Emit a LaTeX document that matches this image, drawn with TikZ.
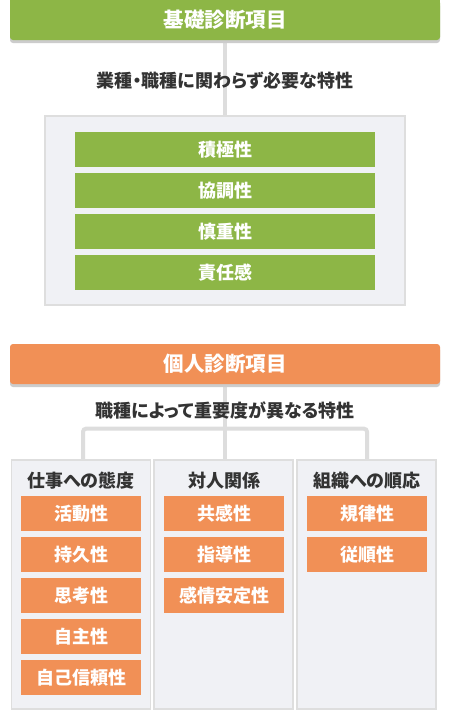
\documentclass[tikz,border=0pt]{standalone}
\usepackage{fontspec}
\setmainfont{Noto Sans CJK JP}[RawFeature=+palt]
\usetikzlibrary{backgrounds}
\definecolor{grn}{HTML}{8DB646}
\definecolor{org}{HTML}{F19056}
\definecolor{panel}{HTML}{F0F1F5}
\definecolor{panelline}{HTML}{DEDEDE}
\definecolor{shadowc}{HTML}{CCCCCC}
\definecolor{connc}{HTML}{DDDDDD}
\definecolor{txt}{HTML}{333333}
\tikzset{
  hdr/.style={rounded corners=3pt, minimum width=430pt, minimum height=40pt, inner sep=0pt,
    text=white, font=\fontsize{20.5}{24}\selectfont\bfseries,
    preaction={fill=shadowc, transform canvas={yshift=-3pt}}},
  lbl/.style={text=txt, font=\fontsize{18}{21}\selectfont\bfseries, inner sep=0pt},
  panelbox/.style={fill=panel, draw=panelline, line width=1.2pt, inner sep=0pt},
  item/.style={minimum height=35pt, inner sep=0pt, text=white, font=\fontsize{18}{21}\selectfont\bfseries},
  gitem/.style={item, fill=grn, minimum width=300pt},
  oitem/.style={item, fill=org, minimum width=120pt},
  conn/.style={draw=connc, line width=4pt},
}
\begin{document}
\begin{tikzpicture}[x=1pt,y=-1pt]
\useasboundingbox (0,0) rectangle (450,710);
% top section
\fill[grn] (10,-3) rectangle (440,10);
\node[hdr, fill=grn] (h1) at (225,20) {基礎診断項目};
\node[lbl] (l1) at (225,81) {業種・職種に関わらず必要な特性};
\node[panelbox, minimum width=360pt, minimum height=189pt] (p1) at (225,210.5) {};
\node[gitem] (g1) at (225,149.5) {積極性};
\node[gitem] (g2) at (225,190.5) {協調性};
\node[gitem] (g3) at (225,231.5) {慎重性};
\node[gitem] (g4) at (225,272.5) {責任感};
% bottom section
\node[hdr, fill=org] (h2) at (225,364) {個人診断項目};
\node[lbl] (l2) at (225,410.5) {職種によって重要度が異なる特性};
\node[panelbox, minimum width=139pt, minimum height=249pt] (c1) at (81,584.5) {};
\node[panelbox, minimum width=139pt, minimum height=249pt] (c2) at (223.5,584.5) {};
\node[panelbox, minimum width=139pt, minimum height=249pt] (c3) at (366.5,584.5) {};
\node[lbl] (t1) at (81,481) {仕事への態度};
\node[lbl] (t2) at (224,481) {対人関係};
\node[lbl] (t3) at (367,481) {組織への順応};
\node[oitem] (a1) at (81,513.5) {活動性};
\node[oitem] (a2) at (81,554.5) {持久性};
\node[oitem] (a3) at (81,595.5) {思考性};
\node[oitem] (a4) at (81,636.5) {自主性};
\node[oitem] (a5) at (81,677.5) {自己信頼性};
\node[oitem] (b1) at (224,513.5) {共感性};
\node[oitem] (b2) at (224,554.5) {指導性};
\node[oitem] (b3) at (224,595.5) {感情安定性};
\node[oitem] (d1) at (367,513.5) {規律性};
\node[oitem] (d2) at (367,554.5) {従順性};
\coordinate (j) at (225,428.7);
\coordinate (jl) at (83,428.7);
\coordinate (jr) at (367,428.7);
\begin{pgfonlayer}{background}
\fill[white] (0,0) rectangle (450,710);
\draw[conn] (h1.south) -- (p1.north);
\draw[conn] (h2.south) -- (j |- c2.north);
\draw[conn, rounded corners=3pt] (jl |- c1.north) -- (jl) -- (jr) -- (jr |- c3.north);
\end{pgfonlayer}
\end{tikzpicture}
\end{document}
